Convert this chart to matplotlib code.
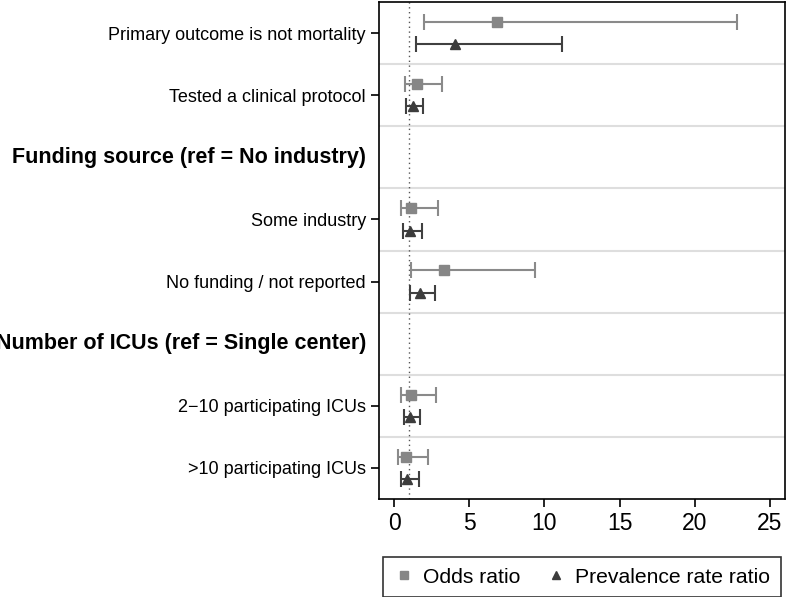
import numpy as np
import matplotlib.pyplot as plt
import matplotlib.transforms as mtransforms
from matplotlib.lines import Line2D

plt.rcParams['font.family'] = ['Liberation Sans', 'DejaVu Sans']

labels = ["Primary outcome is not mortality", "Tested a clinical protocol",
          "Funding source (ref = No industry)", "Some industry",
          "No funding / not reported", "Number of ICUs (ref = Single center)",
          "2\u221210 participating ICUs", ">10 participating ICUs"]
is_header = [False, False, True, False, False, True, False, False]

# odds ratio (point, low, high); None for header rows
or_est = [6.85, 1.5, None, 1.13, 3.3, None, 1.1, 0.78]
or_lo = [2.0, 0.7, None, 0.47, 1.15, None, 0.45, 0.27]
or_hi = [22.8, 3.2, None, 2.9, 9.4, None, 2.77, 2.24]

# prevalence rate ratio
prr_est = [4.05, 1.25, None, 1.04, 1.73, None, 1.04, 0.84]
prr_lo = [1.46, 0.8, None, 0.6, 1.06, None, 0.66, 0.45]
prr_hi = [11.2, 1.9, None, 1.86, 2.7, None, 1.7, 1.64]

c_or = '#868686'
c_prr = '#3c3c3c'

fig = plt.figure(figsize=(7.89, 5.97), dpi=100)
ax = fig.add_axes([0.4804, 0.1642, 0.5146, 0.8324])

off = 0.18
for i in range(len(labels)):
    if is_header[i]:
        continue
    ax.errorbar(or_est[i], i - off, xerr=[[or_est[i] - or_lo[i]], [or_hi[i] - or_est[i]]],
                fmt='s', color=c_or, ecolor='#8a8a8a', ms=6.5, capsize=5.7, elinewidth=1.5,
                capthick=1.5)
    ax.errorbar(prr_est[i], i + off, xerr=[[prr_est[i] - prr_lo[i]], [prr_hi[i] - prr_est[i]]],
                fmt='^', color=c_prr, ecolor='#404040', ms=7, capsize=5.7, elinewidth=1.5,
                capthick=1.5)

# separators between rows
for i in range(len(labels) - 1):
    ax.axhline(i + 0.5, color='#dedede', lw=1.5, zorder=0)

ax.axvline(1, color='#555555', lw=1, ls=(0, (1, 2.5)), zorder=0)

ax.set_xlim(-1, 26)
ax.set_ylim(len(labels) - 0.5, -0.5)
ax.set_xticks([0, 5, 10, 15, 20, 25])
ax.tick_params(axis='x', labelsize=16.5, length=6, width=1.2)

rows = [i for i in range(len(labels)) if not is_header[i]]
ax.set_yticks(rows)
ax.set_yticklabels([labels[i] for i in rows])
ax.tick_params(axis='y', labelsize=13, length=6, width=1.2)

trans = mtransforms.blended_transform_factory(ax.transAxes, ax.transData)
for i in range(len(labels)):
    if is_header[i]:
        ax.text(-0.032, i, labels[i], transform=trans, ha='right', va='center',
                fontsize=15.5, fontweight='bold')

for s in ax.spines.values():
    s.set_linewidth(1.2)

handles = [Line2D([], [], marker='s', color=c_or, ls='none', ms=5.5),
           Line2D([], [], marker='^', color=c_prr, ls='none', ms=6)]
leg = ax.legend(handles, ['Odds ratio', 'Prevalence rate ratio'], loc='upper center',
                bbox_to_anchor=(0.5, -0.104), ncol=2, fontsize=15.2,
                frameon=True, fancybox=False, edgecolor='black', handletextpad=0.4,
                columnspacing=1.2, handlelength=1.0, borderpad=0.5, borderaxespad=0.3)
leg.get_frame().set_linewidth(1.2)

fig.savefig('out.png', dpi=100)
